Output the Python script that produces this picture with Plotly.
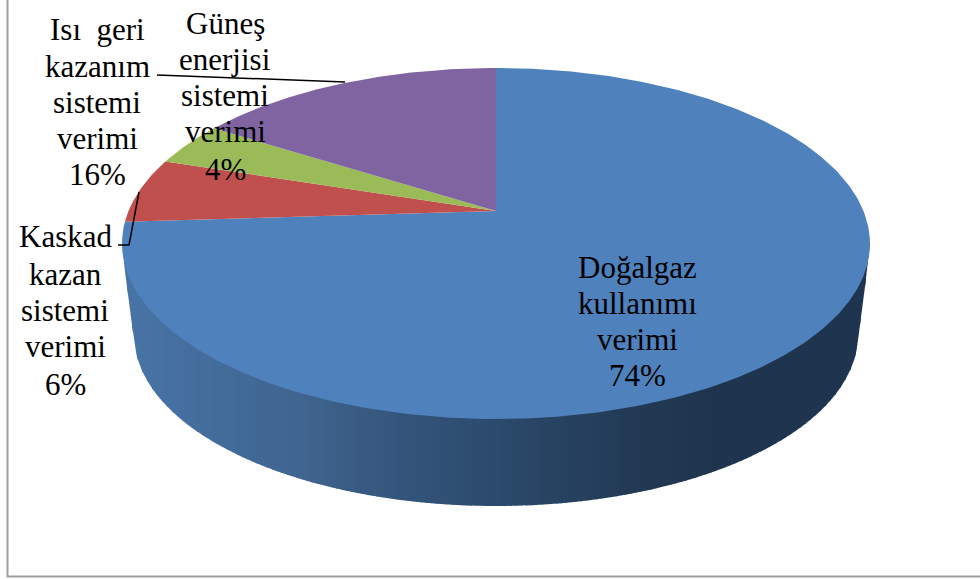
import numpy as np
import plotly.graph_objects as go

# ---- data ----
categories = ["Doğalgaz kullanımı verimi", "Kaskad kazan sistemi verimi",
              "Güneş enerjisi sistemi verimi", "Isı geri kazanım sistemi verimi"]
values = [74, 6, 4, 16]
colors = ["#4F81BD", "#C0504D", "#9BBB59", "#8064A2"]

label_doga = ["Doğalgaz", "kullanımı", "verimi", "74%"]
label_kaskad = ["Kaskad", "kazan", "sistemi", "verimi", "6%"]
label_gunes = ["Güneş", "enerjisi", "sistemi", "verimi", "4%"]
label_isi = ["Isı  geri", "kazanım", "sistemi", "verimi", "16%"]

# ---- geometry of the tilted disc (pixel canvas) ----
W, H = 980, 579
CX, APEX_Y = 496, 211
K, A, B = 0.185, 169.5, 367.5        # perspective of the top face
LOW_CY, LOW_RX, LOW_RY = 335, 362, 171  # lower rim of the disc
FONT_PX = 31


def project(theta):
    """Angle clockwise from 12 o'clock on the disc -> canvas position."""
    u, v = np.sin(theta), np.cos(theta)
    d = 1 + K * v
    return CX + B * u / d, APEX_Y - A * v / d


def lower_hull():
    t = np.linspace(0, 2 * np.pi, 1441)
    xa, ya = project(t)
    xb, yb = CX + LOW_RX * np.sin(t), LOW_CY + LOW_RY * np.cos(t)
    pts = sorted(zip(np.r_[xa, xb], np.r_[ya, yb]))
    hull = []
    for p in pts:
        # y grows downward: keep the largest-y chain
        while len(hull) >= 2:
            (x1, y1), (x2, y2) = hull[-2], hull[-1]
            if (x2 - x1) * (p[1] - y1) - (y2 - y1) * (p[0] - x1) >= 0:
                hull.pop()
            else:
                break
        hull.append(p)
    h = np.array(hull)
    return h[:, 0], h[:, 1]


fig = go.Figure()

# side wall: horizontal gradient made of thin strips
stop_x = [122, 300, 350, 496, 640, 720, 870]
stop_c = [(0x48, 0x74, 0xA7), (0x3F, 0x65, 0x90), (0x3A, 0x5C, 0x84),
          (0x2B, 0x4A, 0x6C), (0x22, 0x39, 0x54), (0x1F, 0x34, 0x4E), (0x1F, 0x34, 0x4E)]
hx, hy = lower_hull()
edges = np.linspace(hx.min(), hx.max(), 151)
for x0, x1 in zip(edges[:-1], edges[1:]):
    mid = (x0 + x1) / 2
    rgb = [int(round(np.interp(mid, stop_x, [c[i] for c in stop_c]))) for i in range(3)]
    x1b = min(x1 + 1, hx.max())
    xs = np.linspace(x0, x1b, 5)
    ys = np.interp(xs, hx, hy)
    fig.add_trace(go.Scatter(
        x=np.r_[xs, x1b, x0, x0], y=np.r_[ys, 243, 243, ys[0]],
        mode="lines", line=dict(width=0), fill="toself",
        fillcolor=f"rgb({rgb[0]},{rgb[1]},{rgb[2]})", hoverinfo="skip", showlegend=False))

# top face slices, clockwise from 12 o'clock
fractions = np.cumsum([0] + values) / sum(values)
for i, name in enumerate(categories):
    t = np.linspace(fractions[i], fractions[i + 1], 400) * 2 * np.pi
    px, py = project(t)
    fig.add_trace(go.Scatter(
        x=np.r_[CX, px, CX], y=np.r_[APEX_Y, py, APEX_Y],
        mode="lines", line=dict(width=0), fill="toself",
        fillcolor=colors[i], name=name, hoverinfo="name", showlegend=False))

# leader lines
for lx, ly in [([118, 129, 139], [245, 245, 192]), ([157, 345], [75, 82])]:
    fig.add_trace(go.Scatter(x=lx, y=ly, mode="lines",
                             line=dict(color="#000000", width=1.5),
                             hoverinfo="skip", showlegend=False))

# labels, one annotation per line for the tight line spacing
placements = [(label_doga, 637, [267, 303, 339, 375]),
              (label_kaskad, 65, [236, 274, 310, 346, 384]),
              (label_gunes, 225, [23, 59, 95, 131, 169]),
              (label_isi, 97, [29, 66, 102, 138, 174])]
for lines, cx, ys in placements:
    for txt, y in zip(lines, ys):
        fig.add_annotation(x=cx, y=y, text=txt.replace("  ", "\u00a0\u00a0"), showarrow=False,
                           xanchor="center", yanchor="middle",
                           font=dict(family="Liberation Serif", size=FONT_PX, color="#000000"))

# chart frame
fig.add_shape(type="rect", x0=7.5, x1=W + 10, y0=-10, y1=576.5,
              line=dict(color="#A0A0A0", width=2), layer="below")

fig.update_layout(
    width=W, height=H, margin=dict(l=0, r=0, t=0, b=0),
    paper_bgcolor="#FFFFFF", plot_bgcolor="#FFFFFF", showlegend=False,
    xaxis=dict(range=[0, W], visible=False, fixedrange=True),
    yaxis=dict(range=[H, 0], visible=False, fixedrange=True),
)
fig.write_html("out.html", config=dict(displayModeBar=False),
               post_script="document.documentElement.style.margin='0';"
                           "document.body.style.margin='0';"
                           "document.body.style.overflow='hidden';")
